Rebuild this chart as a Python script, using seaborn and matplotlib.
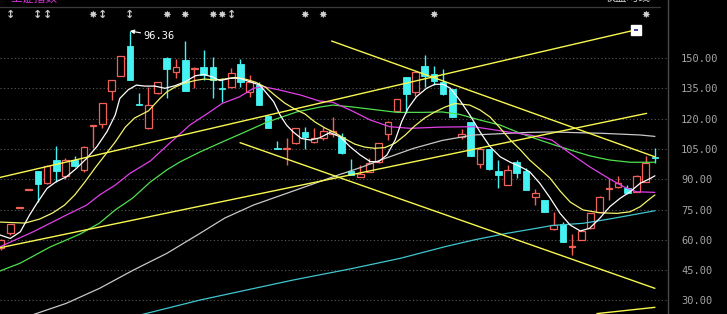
import numpy as np
import matplotlib
matplotlib.use("Agg")
import matplotlib.pyplot as plt
import matplotlib.transforms as mtransforms
import seaborn as sns

# ---------------- data ----------------
opens = [56.0, 63.4, 76.0, 84.6, 94.2, 88.0, 99.5, 91.7, 99.5, 94.6,
         116.5, 117.2, 133.8, 141.2, 155.9, 126.9, 115.2, 132.5, 150.2, 143.2,
         149.0, 144.8, 145.7, 145.7, 135.2, 135.5, 146.9, 133.3, 136.6, 121.4,
         105.4, 104.9, 107.8, 113.5, 108.3, 110.3, 112.3, 111.0, 94.2, 91.3,
         93.7, 98.4, 112.2, 123.8, 140.4, 133.3, 146.0, 141.9, 138.3, 134.7,
         110.7, 118.2, 97.4, 104.9, 94.2, 87.1, 98.7, 94.2, 81.3, 79.7,
         65.3, 67.8, 56.4, 59.9, 65.7, 73.9, 85.0, 86.0, 85.8, 83.8,
         88.8, 101.1]
closes = [59.9, 67.8, 76.2, 84.8, 87.6, 96.7, 94.2, 99.5, 96.7, 106.1,
          117.0, 127.6, 139.1, 151.0, 139.1, 126.6, 126.7, 138.0, 144.4, 145.7,
          133.8, 145.2, 141.6, 139.1, 134.8, 142.7, 138.0, 138.3, 126.7, 115.5,
          104.9, 105.2, 115.2, 111.0, 110.3, 113.9, 113.9, 102.8, 92.1, 92.4,
          97.9, 107.8, 118.5, 129.7, 132.0, 143.2, 141.2, 138.6, 132.0, 121.0,
          112.2, 101.6, 104.9, 95.0, 92.1, 94.6, 92.9, 84.7, 83.0, 74.0,
          67.3, 59.1, 56.8, 64.4, 73.1, 81.4, 85.4, 88.0, 83.0, 91.7,
          97.9, 100.7]
highs = [60.3, 68.0, 76.2, 84.8, 94.2, 96.9, 106.6, 100.6, 101.5, 106.3,
         117.0, 127.8, 139.3, 151.2, 163.4, 132.5, 135.8, 138.2, 150.4, 149.5,
         158.4, 145.4, 154.0, 150.6, 140.0, 145.2, 149.4, 141.6, 138.0, 121.6,
         109.1, 110.3, 115.4, 115.7, 115.2, 115.7, 121.0, 112.7, 99.8, 97.0,
         100.6, 108.0, 118.7, 129.9, 140.6, 143.4, 151.5, 146.0, 144.4, 134.9,
         114.9, 118.4, 106.0, 105.1, 99.5, 97.0, 99.5, 95.5, 85.0, 79.9,
         74.0, 69.0, 62.7, 64.6, 73.3, 81.6, 90.0, 91.7, 87.2, 91.9,
         101.5, 105.3]
lows = [55.0, 62.4, 76.0, 84.6, 78.6, 87.5, 88.8, 90.1, 96.2, 93.4,
        105.3, 115.2, 129.2, 141.0, 139.0, 126.6, 115.0, 132.3, 130.0, 140.3,
        133.6, 135.0, 139.1, 130.0, 128.4, 135.3, 135.8, 130.8, 126.5, 115.3,
        104.8, 97.0, 107.6, 104.8, 108.1, 109.4, 111.0, 102.6, 92.0, 91.2,
        93.5, 98.2, 109.4, 123.6, 122.6, 131.3, 135.8, 136.8, 131.8, 120.8,
        109.8, 101.4, 95.7, 94.8, 85.5, 86.9, 90.8, 84.5, 77.2, 73.8,
        65.1, 58.9, 52.5, 59.7, 65.5, 73.7, 79.7, 85.8, 82.8, 83.6,
        88.6, 97.9]

# moving-average curves (white, yellow, magenta, green, grey, cyan)
ma_white_x = [-0.1, 1.0, 2.1, 3.1, 3.9, 5.0, 6.0, 7.1, 8.2, 9.3, 10.4, 11.5, 12.4, 12.9, 13.8,
              14.7, 15.6, 16.7, 17.8, 18.9, 20.0, 21.1, 22.0, 22.9, 23.8, 24.9, 25.9, 27.0,
              28.1, 29.6, 30.3, 31.0, 31.7, 32.6, 33.6, 34.6, 35.7, 36.8, 37.9, 39.0, 40.1,
              41.0, 41.9, 42.8, 43.5, 44.2, 45.1, 46.2, 47.1, 48.0, 48.8, 49.8, 50.9, 52.0,
              53.1, 54.2, 55.3, 56.4, 57.4, 58.5, 59.6, 60.7, 61.8, 62.9, 63.9, 65.0, 66.1,
              67.2, 68.3, 69.4, 70.5, 71.0]
ma_white_y = [62.4, 60.7, 64.0, 72.3, 78.1, 85.5, 88.8, 91.2, 95.4, 100.3, 106.1, 113.5, 121.8,
              130.0, 134.2, 136.6, 136.1, 136.1, 135.0, 136.3, 138.3, 141.2, 141.9, 140.7,
              138.8, 140.0, 140.0, 138.3, 136.6, 128.4, 121.8, 116.8, 113.5, 110.2, 109.4,
              110.5, 113.1, 111.0, 106.1, 102.0, 98.7, 98.7, 102.0, 109.4, 118.5, 125.1,
              130.8, 135.0, 137.0, 137.0, 135.0, 129.2, 121.8, 113.5, 106.1, 101.1, 98.4,
              96.2, 93.7, 88.0, 80.9, 73.1, 67.3, 64.4, 65.7, 70.6, 76.4, 80.5, 83.8, 88.0,
              90.4, 91.7]
ma_yellow_x = [-0.1, 2.6, 4.2, 5.6, 6.9, 8.0, 9.1, 10.2, 11.3, 12.4, 13.5, 14.5, 16.0, 17.3,
               18.0, 18.9, 19.8, 21.1, 22.1, 23.2, 24.3, 25.4, 26.5, 27.6, 28.7, 29.7, 30.8,
               31.9, 33.0, 34.1, 35.2, 36.3, 37.4, 38.4, 39.5, 40.6, 41.7, 42.8, 43.9, 44.9,
               46.0, 47.1, 48.2, 49.3, 50.9, 52.0, 53.1, 54.2, 55.3, 56.4, 57.4, 58.5, 59.6,
               60.7, 61.8, 63.2, 65.0, 66.9, 68.3, 69.4, 70.5, 71.0]
ma_yellow_y = [68.8, 68.3, 70.3, 73.3, 77.2, 82.2, 88.6, 95.5, 102.0, 108.4, 115.8, 120.3,
               123.8, 130.2, 133.2, 135.6, 137.4, 138.9, 139.6, 139.1, 139.6, 140.4, 139.6,
               138.1, 135.6, 131.7, 127.7, 124.7, 122.3, 118.3, 115.3, 112.9, 109.9, 107.4,
               105.9, 105.3, 105.7, 107.9, 111.9, 116.3, 120.3, 123.3, 125.7, 127.5, 126.7,
               124.3, 120.8, 115.3, 109.4, 104.5, 99.5, 95.1, 90.6, 84.2, 78.7, 74.8, 73.4,
               73.1, 73.9, 76.4, 80.5, 82.2]
ma_magenta_x = [-0.1, 3.5, 7.1, 9.3, 10.7, 12.4, 14.0, 16.2, 18.3, 20.5, 22.7, 24.0, 25.9,
                27.4, 28.5, 30.3, 32.5, 34.6, 36.0, 37.9, 40.1, 42.2, 44.4, 47.7, 51.3, 54.9,
                57.4, 59.8, 61.8, 63.9, 66.1, 67.6, 69.0, 71.0]
ma_magenta_y = [56.6, 64.0, 72.3, 77.2, 82.2, 87.1, 92.9, 99.0, 107.8, 116.8, 123.4, 127.5,
                130.8, 135.0, 135.8, 134.1, 131.7, 128.7, 128.1, 124.3, 119.3, 116.0, 115.2,
                115.8, 116.0, 113.5, 111.9, 109.4, 102.8, 96.2, 90.1, 86.3, 83.8, 83.5]
ma_green_x = [-0.1, 2.1, 5.3, 8.6, 10.7, 12.4, 14.3, 16.2, 18.0, 19.4, 21.6, 24.0, 26.5, 28.9,
              32.1, 34.6, 36.0, 37.9, 40.1, 43.0, 45.9, 47.9, 49.8, 52.0, 54.2, 56.4, 58.5,
              59.8, 61.8, 63.9, 66.1, 68.3, 71.0]
ma_green_y = [44.6, 48.5, 56.4, 62.9, 68.3, 74.8, 80.7, 88.6, 94.6, 98.5, 103.5, 108.4, 113.4,
              118.3, 123.3, 125.7, 126.7, 125.9, 124.7, 123.1, 123.1, 123.3, 122.1, 119.3,
              116.8, 112.7, 109.4, 107.4, 104.5, 101.6, 99.5, 98.4, 98.4]
ma_grey_x = [3.5, 7.1, 10.7, 14.4, 18.0, 21.6, 24.3, 27.4, 31.0, 34.6, 36.3, 39.3, 41.2, 44.8,
             47.9, 51.3, 54.9, 57.4, 59.8, 65.4, 69.4, 71.0]
ma_grey_y = [23.0, 28.6, 36.0, 45.1, 53.3, 63.2, 70.8, 77.2, 83.0, 88.8, 91.6, 96.2, 99.5, 105.3,
             109.2, 111.9, 112.7, 113.2, 113.4, 112.7, 111.9, 111.2]
ma_cyan_x = [15.1, 21.6, 31.7, 37.9, 43.3, 48.2, 51.3, 54.9, 58.5, 59.8, 63.2, 65.0, 66.9, 71.0]
ma_cyan_y = [22.8, 30.2, 40.1, 45.6, 50.8, 56.6, 59.9, 63.2, 66.0, 67.1, 68.2, 69.5, 71.0, 74.4]

# straight trend lines (start / end)
trend_up1_x, trend_up1_y = [-0.1, 68.9], [90.9, 163.9]
trend_up2_x, trend_up2_y = [-0.1, 70.1], [56.1, 122.6]
trend_dn1_x, trend_dn1_y = [35.9, 71.0], [158.4, 101.1]
trend_dn2_x, trend_dn2_y = [25.95, 71.0], [108.1, 36.0]
trend_low_x, trend_low_y = [64.7, 71.0], [23.5, 26.6]

y_ticks = [30, 45, 60, 75, 90, 105, 120, 135, 150]
signal_arrow_idx = [1, 4, 5, 11, 14, 25]
signal_star_idx = [10, 18, 20, 23, 24, 33, 35, 47, 70]
peak_label = "96.36"
peak_idx = 14
title_left = "上证指数"
title_right = "收盘均线"

# ---------------- styling ----------------
sns.set_theme(style="dark", rc={"axes.facecolor": "black", "figure.facecolor": "black"})
plt.rcParams['font.family'] = ['Noto Sans CJK SC', 'DejaVu Sans']

RED = "#f2605a"
CYAN = "#45f2f2"

fig = plt.figure(figsize=(7.27, 3.14), dpi=100)
fig.patch.set_facecolor("black")
ax = fig.add_axes([0, 0, 668 / 727, 1])
ax.set_facecolor("black")

o = np.array(opens)
c = np.array(closes)
h = np.array(highs)
l = np.array(lows)
idx = np.arange(len(o))
up = c >= o
wick_colors = np.where(up, RED, CYAN)

ax.vlines(idx, l, h, colors=wick_colors, linewidth=1.0, zorder=3)
bottom = np.minimum(o, c)
height = np.maximum(np.abs(c - o), 0.45)
ax.bar(idx[up], height[up], bottom=bottom[up], width=0.72, facecolor="black",
       edgecolor=RED, linewidth=0.9, zorder=4)
ax.bar(idx[~up], height[~up], bottom=bottom[~up], width=0.72, facecolor=CYAN,
       edgecolor=CYAN, linewidth=0.6, zorder=4)

lines = [
    (ma_cyan_x, ma_cyan_y, "#3fc6d0"),
    (ma_grey_x, ma_grey_y, "#c8c8c8"),
    (ma_green_x, ma_green_y, "#4fe04f"),
    (ma_magenta_x, ma_magenta_y, "#e040e8"),
    (ma_yellow_x, ma_yellow_y, "#f4f46a"),
    (ma_white_x, ma_white_y, "#ffffff"),
]
for xs, ys, col in lines:
    sns.lineplot(x=xs, y=ys, color=col, linewidth=0.9, ax=ax, sort=False,
                 estimator=None, zorder=5)

for xs, ys in [(trend_up1_x, trend_up1_y), (trend_up2_x, trend_up2_y),
               (trend_dn1_x, trend_dn1_y), (trend_dn2_x, trend_dn2_y),
               (trend_low_x, trend_low_y)]:
    sns.lineplot(x=xs, y=ys, color="#f8f850", linewidth=1.0, ax=ax, sort=False,
                 estimator=None, zorder=6)

# end-handle of the long trend line
ax.plot(trend_up1_x[-1], trend_up1_y[-1], marker="s", markersize=6.5,
        color="white", markeredgecolor="white", zorder=7)
ax.plot(trend_up1_x[-1], trend_up1_y[-1], marker="_", markersize=3.5,
        color="#202080", markeredgewidth=1.2, zorder=8)

# peak annotation
ax.annotate(peak_label, xy=(peak_idx, highs[peak_idx]), xytext=(10, -3.8),
            textcoords="offset points", ha="left", va="center",
            color="white", fontsize=7.5, family=["DejaVu Sans Mono"],
            arrowprops=dict(arrowstyle="-|>", color="white", lw=0.8,
                            shrinkA=0, shrinkB=0, mutation_scale=6),
            zorder=9)

# signal markers row
trans = mtransforms.blended_transform_factory(ax.transData, ax.transAxes)
for i in signal_arrow_idx:
    ax.text(i, 1 - 15 / 314, "↕", transform=trans, ha="center", va="center",
            color="#c8c8c8", fontsize=8, fontweight="bold", family=["DejaVu Sans"])
for i in signal_star_idx:
    ax.text(i, 1 - 15 / 314, "✸", transform=trans, ha="center", va="center",
            color="#d0d0d0", fontsize=7.5, family=["DejaVu Sans"])

# axes, grid, ticks
ax.set_xlim(-0.109, 72.42)
ax.set_ylim(23.3, 178.71)
ax.set_xticks([])
ax.yaxis.tick_right()
ax.set_yticks(y_ticks)
ax.set_yticklabels([f"{t:.2f}" for t in y_ticks], family=["DejaVu Sans Mono"],
                   fontsize=7.5, color="#a4a4a4")
ax.tick_params(axis="y", length=0, pad=9.5)
ax.grid(False)
for t in y_ticks:
    ax.axhline(t, color="#5c5c5c", linestyle=(0, (1, 2.2)), linewidth=0.8, zorder=1)
for s in ["left", "top", "bottom"]:
    ax.spines[s].set_visible(False)
ax.spines["right"].set_visible(True)
ax.spines["right"].set_color("#4a4a4a")
ax.spines["right"].set_linewidth(1.0)

# header strip
fig.add_artist(plt.Line2D([0, 660 / 727], [1 - 6.7 / 314, 1 - 6.7 / 314],
                          color="#3a3a3a", linewidth=0.9, transform=fig.transFigure))
fig.text(10 / 727, 1 - 4.5 / 314, title_left, color="#d030d0", fontsize=8.5,
         ha="left", va="bottom")
fig.text(603 / 727, 1 - 4 / 314, title_right, color="#c8c8c8", fontsize=8.5,
         ha="left", va="bottom")

fig.savefig("out.png", dpi=100, facecolor="black")
